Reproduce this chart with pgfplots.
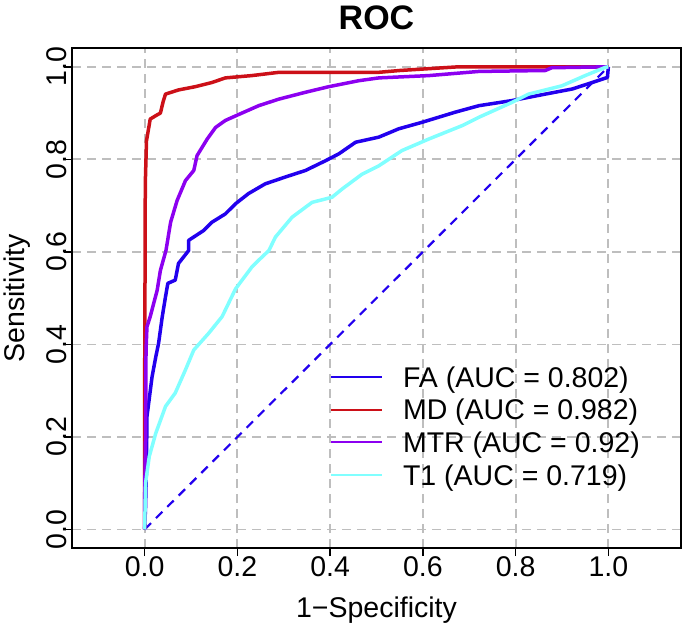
\documentclass[border=0pt]{standalone}
\usepackage{pgfplots}
\pgfplotsset{compat=1.18}
\usepackage{fontspec}
\setmainfont{Liberation Sans}
\definecolor{FAc}{RGB}{34,0,238}
\definecolor{MDc}{RGB}{204,16,24}
\definecolor{MTRc}{RGB}{140,0,240}
\definecolor{T1c}{RGB}{128,255,255}
\definecolor{gridc}{RGB}{190,190,190}
\begin{document}
\begin{tikzpicture}
\useasboundingbox (-72.3bp,-81bp) rectangle (611.7bp,548bp);
\begin{axis}[
  scale only axis, width=608.4bp, height=499.7bp,
  xmin=-0.156, xmax=1.156, ymin=-0.04, ymax=1.04,
  xtick={0,0.2,0.4,0.6,0.8,1}, ytick={0,0.2,0.4,0.6,0.8,1},
  xticklabels={0.0,0.2,0.4,0.6,0.8,1.0},
  yticklabels={0.0,0.2,0.4,0.6,0.8,1.0},
  tick pos=left, tick align=outside, major tick length=8bp,
  tick style={black, line width=1.5bp},
  axis line style={black, line width=2bp},
  grid=major,
  major grid style={gridc, line width=1.8bp, dash pattern=on 9bp off 6bp},
  ticklabel style={font=\fontsize{28.5bp}{34bp}\selectfont, inner sep=0pt},
  xticklabel style={anchor=north},
  yticklabel style={rotate=90, anchor=south},
  yticklabel shift=-3bp,
  every axis title shift/.style={yshift=0pt},
  title={ROC},
  title style={at={(axis description cs:0.5,1.026)}, anchor=base, font=\fontsize{34bp}{40bp}\selectfont\bfseries, inner sep=0pt},
  xlabel={1−Specificity},
  xlabel style={at={(axis description cs:0.5,-0.1381)}, anchor=base, font=\fontsize{28.5bp}{34bp}\selectfont, inner sep=0pt},
  ylabel={Sensitivity},
  ylabel style={at={(axis description cs:-0.079,0.5)}, anchor=base, font=\fontsize{28.5bp}{34bp}\selectfont, inner sep=0pt},
  legend style={at={(axis description cs:0.4236,0.3626)}, anchor=north west, draw=none, fill=none,
    inner sep=0pt, outer sep=0pt, font=\fontsize{28.5bp}{34bp}\selectfont,
    nodes={inner sep=0pt, text height=20.4bp, text depth=0pt},
    column sep=20bp, row sep=12.3bp},
  legend cell align=left,
  legend image code/.code={\draw[#1, line width=2bp] (0bp,0bp) -- (51bp,0bp);},
]
\addplot[FAc, line width=2.2bp, dash pattern=on 9bp off 7bp, forget plot] coordinates {(0,0) (1,1)};
\addplot[FAc, line width=3.5bp, line join=round] coordinates {
(0,0)(0.002,0.05)(0.004,0.14)(0.005,0.244)(0.016,0.33)(0.024,0.373)(0.03,0.402)(0.038,0.46)(0.045,0.503)(0.05,0.532)(0.066,0.539)(0.073,0.575)(0.095,0.603)(0.095,0.625)(0.127,0.646)(0.145,0.664)(0.174,0.682)(0.196,0.704)(0.224,0.726)(0.26,0.747)(0.304,0.762)(0.347,0.776)(0.39,0.797)(0.419,0.812)(0.455,0.837)(0.505,0.848)(0.548,0.866)(0.598,0.88)(0.67,0.902)(0.721,0.916)(0.792,0.927)(0.864,0.941)(0.922,0.952)(0.965,0.966)(0.998,0.977)(1,1)};
\addlegendentry{FA (AUC = 0.802)}
\addplot[MDc, line width=3.5bp, line join=round] coordinates {
(0,0)(0,0.3)(0.001,0.6)(0.0014,0.747)(0.004,0.84)(0.012,0.887)(0.025,0.895)(0.034,0.90)(0.04,0.925)(0.045,0.941)(0.073,0.95)(0.109,0.957)(0.145,0.966)(0.174,0.976)(0.231,0.981)(0.289,0.988)(0.504,0.988)(0.55,0.992)(0.677,1.0)(1,1)};
\addlegendentry{MD (AUC = 0.982)}
\addplot[MTRc, line width=3.5bp, line join=round] coordinates {
(0,0)(0,0.065)(0.002,0.2)(0.003,0.388)(0.005,0.438)(0.012,0.46)(0.027,0.517)(0.034,0.56)(0.046,0.603)(0.056,0.664)(0.070,0.711)(0.088,0.754)(0.106,0.776)(0.113,0.808)(0.135,0.844)(0.153,0.869)(0.174,0.884)(0.203,0.897)(0.246,0.916)(0.289,0.930)(0.347,0.945)(0.397,0.957)(0.462,0.970)(0.505,0.976)(0.613,0.981)(0.721,0.990)(0.864,0.992)(0.878,0.998)(1,1)};
\addlegendentry{MTR (AUC = 0.92)}
\addplot[T1c, line width=3.5bp, line join=round] coordinates {
(0,0)(0.002,0.1)(0.01,0.158)(0.024,0.208)(0.045,0.266)(0.066,0.295)(0.088,0.345)(0.106,0.388)(0.138,0.424)(0.167,0.46)(0.196,0.52)(0.231,0.567)(0.246,0.582)(0.268,0.603)(0.282,0.632)(0.318,0.675)(0.361,0.707)(0.404,0.718)(0.426,0.736)(0.469,0.768)(0.505,0.786)(0.555,0.819)(0.613,0.844)(0.685,0.873)(0.721,0.891)(0.792,0.923)(0.828,0.941)(0.9,0.959)(0.95,0.981)(0.994,0.999)(1,1)};
\addlegendentry{T1 (AUC = 0.719)}
\end{axis}
\end{tikzpicture}
\end{document}
